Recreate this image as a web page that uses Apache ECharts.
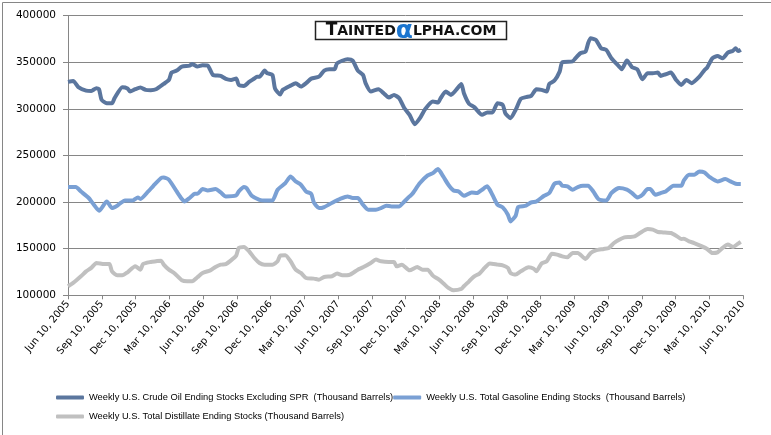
<!DOCTYPE html>
<html>
<head>
<meta charset="utf-8">
<script src="https://cdn.jsdelivr.net/npm/echarts@6/dist/echarts.min.js"></script>
<style>html,body{margin:0;padding:0;background:#fff}#c{width:771px;height:435px}</style>
</head>
<body>
<div id="c"></div>
<script>
const tickLabels = ['Jun 10, 2005','Sep 10, 2005','Dec 10, 2005','Mar 10, 2006','Jun 10, 2006','Sep 10, 2006','Dec 10, 2006','Mar 10, 2007','Jun 10, 2007','Sep 10, 2007','Dec 10, 2007','Mar 10, 2008','Jun 10, 2008','Sep 10, 2008','Dec 10, 2008','Mar 10, 2009','Jun 10, 2009','Sep 10, 2009','Dec 10, 2009','Mar 10, 2010','Jun 10, 2010'];
const seriesNames = ['Weekly U.S. Crude Oil Ending Stocks Excluding SPR  (Thousand Barrels)','Weekly U.S. Total Gasoline Ending Stocks  (Thousand Barrels)','Weekly U.S. Total Distillate Ending Stocks (Thousand Barrels)'];
// weeks since Jun 10, 2005
const crudeWeeks = [0,2,4,7,9,11,12,13,15,17,18,21,23,24,26,28,30,32,34,37,39,40,42,44,47,48,50,52,54,56,59,61,63,65,66,68,70,72,73,74,76,77,79,80,82,83,86,88,90,92,94,97,99,101,103,104,108,110,112,114,115,117,120,122,124,126,128,130,132,134,136,138,141,143,144,146,148,150,152,153,155,157,160,162,164,166,168,169,171,173,175,177,179,181,183,185,186,188,190,191,195,196,198,200,201,202,204,206,208,210,213,214,216,218,220,222,224,226,228,229,231,233,235,237,239,241,244,246,247,249,251,253,255,257,258,259,260];
const crudeValues = [329000,330000,323300,319600,319300,322200,321000,309700,306100,306000,311500,323300,322000,318600,321100,322900,320400,320000,321000,326800,331100,338900,341100,345400,346400,348200,345400,346800,346500,336500,335400,332200,331100,332600,325800,324700,329000,332600,334600,334600,341100,338300,336500,322000,315500,320400,325000,327600,324000,327600,332500,334600,341100,342500,342500,349000,353300,351800,341100,336500,327600,318600,321100,316800,312200,315000,311400,300700,293600,283600,290000,299700,307900,306800,311500,318600,315000,320400,326800,316800,305400,301900,293600,296100,296100,306100,304300,295400,290000,299000,310800,312600,314000,321100,320400,318600,326800,330400,340000,350000,351000,354000,359700,361500,370400,375800,374000,365100,363300,354300,345400,342500,351800,344700,342500,331800,338300,338300,339000,335400,337200,339000,331100,325700,331100,327600,334600,341800,344400,354300,356800,354300,360400,362500,365100,362000,363500];
const gasWeeks = [0,3,5,8,10,12,15,17,19,20,22,25,27,28,31,33,36,37,39,42,44,45,47,49,50,52,54,57,59,61,65,66,68,69,71,74,76,79,81,84,86,88,90,92,94,95,97,99,103,105,108,110,112,114,116,119,121,123,125,128,130,132,133,136,139,141,143,145,147,149,151,153,156,158,160,162,164,166,168,170,171,173,174,177,179,181,184,186,188,190,191,193,195,197,199,201,203,205,208,210,213,216,218,220,222,224,225,227,229,231,234,237,238,240,242,244,246,248,251,254,256,258,260];
const gasValues = [216100,216100,211400,204400,197200,190800,200700,193600,196100,198300,201800,201800,205000,203300,211400,217500,225800,226500,224000,211400,203300,200700,204400,208900,208900,214000,212500,214000,210400,206100,207200,211400,216100,215000,206800,202500,201800,201800,213300,220400,227500,222200,218600,211400,208900,199700,193600,194700,200700,203300,206100,204400,204400,197200,191800,191800,193600,196100,195400,195400,200700,206100,208600,220400,228600,231100,235400,227500,218600,212500,211400,206800,210400,209700,213300,216900,207900,197200,194300,186500,179300,185400,194700,196100,199700,200700,206800,209700,219700,221100,217500,216900,213300,216100,217500,217500,211400,203300,201800,209700,215000,213300,209700,205000,207900,214000,214000,207900,209700,211400,217500,217500,223300,229300,229300,232900,231800,226800,222200,224700,222200,219700,219400];
const distWeeks = [0,2,5,7,9,11,14,16,17,19,21,23,26,28,29,32,34,36,37,39,41,44,46,48,50,52,55,57,59,61,63,65,66,68,70,72,74,76,79,81,82,84,86,88,90,92,95,97,99,102,104,106,109,112,114,117,119,121,124,126,127,129,132,135,137,139,141,143,145,147,149,152,153,155,157,159,161,163,166,168,170,171,173,175,178,180,181,183,185,187,189,191,193,195,197,200,202,204,207,209,211,213,215,217,219,221,224,226,228,230,233,235,237,238,240,242,245,247,249,251,253,255,257,259,260];
const distValues = [109700,113300,120400,125700,129400,134700,133600,133600,125700,121400,121400,124700,131100,127500,133600,135800,136500,137200,132900,127500,124000,116100,115000,115000,119300,124000,126800,130400,132900,133500,137500,142600,150800,151900,147200,140000,134700,132900,132900,136500,142600,142900,136500,127500,124000,118600,117900,116800,119700,120400,123300,121400,122200,127500,130000,134700,138300,136500,135800,135800,131100,132900,126800,130400,127500,127500,121100,117500,113000,107900,105400,106800,109700,115000,120400,123300,129400,134100,132900,132100,129400,124000,122200,125700,130000,128500,125700,134100,136500,144700,143600,141800,140700,145400,145400,139000,145400,148200,149700,150800,156100,159700,162200,162600,163200,166800,171100,170400,167900,167500,166800,164000,160400,160700,157900,156100,152500,149700,145400,146100,150800,154400,151900,155500,157300];

const TOTAL_DAYS = 1826;
const STEP = TOTAL_DAYS / 20;
function pairs(weeks, vals){ return weeks.map((w,i)=>[w*7, vals[i]]); }
const colors = ['#5B769E','#7AA0D4','#C0C0C0'];

const chart = echarts.init(document.getElementById('c'), null, {renderer:'canvas'});
const legendText = {fontFamily:'Liberation Sans', fontSize:9.3, color:'#000'};
chart.setOption({
  animation:false,
  backgroundColor:'#fff',
  grid:{left:68, right:28, top:15.7, bottom:139.7, containLabel:false},
  xAxis:{
    type:'value', min:0, max:TOTAL_DAYS, interval:STEP,
    axisLine:{show:true, lineStyle:{color:'#868686', width:1}},
    axisTick:{show:true, length:4, lineStyle:{color:'#868686'}},
    splitLine:{show:false},
    axisLabel:{rotate:50, fontFamily:'DejaVu Sans', fontSize:10, color:'#000', margin:7,
      formatter:function(v){ return tickLabels[Math.round(v/STEP)] || ''; }}
  },
  yAxis:{
    type:'value', min:100000, max:400000, interval:50000,
    axisLine:{show:true, lineStyle:{color:'#868686', width:1}},
    axisTick:{show:true, length:5, lineStyle:{color:'#868686'}},
    splitLine:{show:true, lineStyle:{color:'#868686', width:1}},
    axisLabel:{fontFamily:'DejaVu Sans', fontSize:10.5, color:'#000', margin:12,
      formatter:function(v){ return String(v); }}
  },
  legend:[
    {data:[seriesNames[0], seriesNames[1]], left:51, top:388, orient:'horizontal', itemWidth:28, itemHeight:4, itemGap:0, icon:'roundRect', textStyle:legendText},
    {data:[seriesNames[2]], left:51, top:407, orient:'horizontal', itemWidth:28, itemHeight:4, itemGap:0, icon:'roundRect', textStyle:legendText}
  ],
  graphic:[
    {type:'rect', left:0, top:0, shape:{x:0.5, y:0.5, width:769, height:433}, style:{fill:'none', stroke:'#868686', lineWidth:1}, z:-1},
    {type:'rect', shape:{x:315.5, y:21.5, width:191, height:18}, style:{fill:'#fff', stroke:'#222', lineWidth:1.5}, z:100},
    {type:'text', x:411, y:31, z:101, style:{
      text:'{a|T}{b|AINTED}{c|α}{b|LPHA.COM}',
      align:'center', verticalAlign:'middle',
      rich:{
        a:{fontFamily:'DejaVu Sans', fontWeight:'bold', fontSize:17, fill:'#111'},
        b:{fontFamily:'DejaVu Sans', fontWeight:'bold', fontSize:14, fill:'#111'},
        c:{fontFamily:'DejaVu Sans', fontWeight:'bold', fontSize:25, fill:'#1B75CF'}
      }}}
  ],
  series:[
    {name:seriesNames[0], type:'line', data:pairs(crudeWeeks, crudeValues), showSymbol:false, smooth:0.2, lineStyle:{width:4, color:colors[0]}, itemStyle:{color:colors[0]}, z:3},
    {name:seriesNames[1], type:'line', data:pairs(gasWeeks, gasValues), showSymbol:false, smooth:0.2, lineStyle:{width:4, color:colors[1]}, itemStyle:{color:colors[1]}, z:2},
    {name:seriesNames[2], type:'line', data:pairs(distWeeks, distValues), showSymbol:false, smooth:0.2, lineStyle:{width:4, color:colors[2]}, itemStyle:{color:colors[2]}, z:1}
  ]
});
</script>
</body>
</html>
